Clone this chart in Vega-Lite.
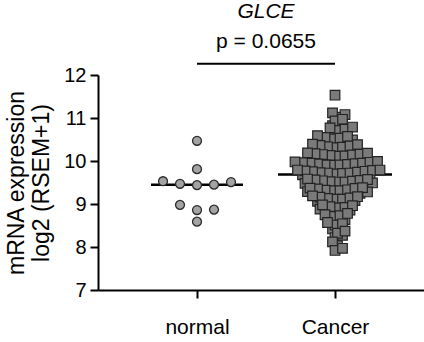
{
  "$schema": "https://vega.github.io/schema/vega-lite/v6.json",
  "autosize": "none",
  "padding": {"left": 98, "top": 75, "right": 0, "bottom": 52},
  "width": 336,
  "height": 215,
  "background": "white",
  "config": {
    "view": {"stroke": null},
    "font": "Liberation Sans"
  },
  "title": {
    "text": "GLCE",
    "fontStyle": "italic",
    "fontWeight": "normal",
    "fontSize": 21,
    "font": "Liberation Sans",
    "color": "black",
    "subtitle": "p = 0.0655",
    "subtitleFont": "Liberation Sans",
    "subtitleFontSize": 21,
    "subtitleColor": "black",
    "subtitlePadding": 9,
    "offset": 11,
    "anchor": "middle"
  },
  "datasets": {
    "bracket": [{"from": "normal", "to": "Cancer", "level": 12.26}],
    "expr": [
      {"group": "normal", "value": 10.47},
      {"group": "normal", "value": 9.81},
      {"group": "normal", "value": 9.45},
      {"group": "normal", "value": 9.53},
      {"group": "normal", "value": 9.47},
      {"group": "normal", "value": 9.51},
      {"group": "normal", "value": 9.44},
      {"group": "normal", "value": 8.98},
      {"group": "normal", "value": 8.86},
      {"group": "normal", "value": 8.87},
      {"group": "normal", "value": 8.59},
      {"group": "Cancer", "value": 11.53},
      {"group": "Cancer", "value": 11.02}, {"group": "Cancer", "value": 11.08}, {"group": "Cancer", "value": 11.12},
      {"group": "Cancer", "value": 10.82}, {"group": "Cancer", "value": 10.88}, {"group": "Cancer", "value": 10.93}, {"group": "Cancer", "value": 10.97},
      {"group": "Cancer", "value": 10.62}, {"group": "Cancer", "value": 10.66}, {"group": "Cancer", "value": 10.71}, {"group": "Cancer", "value": 10.74}, {"group": "Cancer", "value": 10.77}, {"group": "Cancer", "value": 10.79},
      {"group": "Cancer", "value": 10.41}, {"group": "Cancer", "value": 10.44}, {"group": "Cancer", "value": 10.46}, {"group": "Cancer", "value": 10.49}, {"group": "Cancer", "value": 10.51}, {"group": "Cancer", "value": 10.53}, {"group": "Cancer", "value": 10.55}, {"group": "Cancer", "value": 10.57}, {"group": "Cancer", "value": 10.59},
      {"group": "Cancer", "value": 10.21}, {"group": "Cancer", "value": 10.22}, {"group": "Cancer", "value": 10.24}, {"group": "Cancer", "value": 10.26}, {"group": "Cancer", "value": 10.27}, {"group": "Cancer", "value": 10.29}, {"group": "Cancer", "value": 10.31}, {"group": "Cancer", "value": 10.32}, {"group": "Cancer", "value": 10.33}, {"group": "Cancer", "value": 10.35}, {"group": "Cancer", "value": 10.36}, {"group": "Cancer", "value": 10.38}, {"group": "Cancer", "value": 10.39},
      {"group": "Cancer", "value": 10.01}, {"group": "Cancer", "value": 10.02}, {"group": "Cancer", "value": 10.03}, {"group": "Cancer", "value": 10.05}, {"group": "Cancer", "value": 10.06}, {"group": "Cancer", "value": 10.07}, {"group": "Cancer", "value": 10.08}, {"group": "Cancer", "value": 10.09}, {"group": "Cancer", "value": 10.11}, {"group": "Cancer", "value": 10.12}, {"group": "Cancer", "value": 10.13}, {"group": "Cancer", "value": 10.14}, {"group": "Cancer", "value": 10.15}, {"group": "Cancer", "value": 10.16}, {"group": "Cancer", "value": 10.17}, {"group": "Cancer", "value": 10.18}, {"group": "Cancer", "value": 10.19},
      {"group": "Cancer", "value": 9.81}, {"group": "Cancer", "value": 9.81}, {"group": "Cancer", "value": 9.82}, {"group": "Cancer", "value": 9.83}, {"group": "Cancer", "value": 9.84}, {"group": "Cancer", "value": 9.85}, {"group": "Cancer", "value": 9.86}, {"group": "Cancer", "value": 9.87}, {"group": "Cancer", "value": 9.88}, {"group": "Cancer", "value": 9.89}, {"group": "Cancer", "value": 9.9}, {"group": "Cancer", "value": 9.91}, {"group": "Cancer", "value": 9.91}, {"group": "Cancer", "value": 9.92}, {"group": "Cancer", "value": 9.93}, {"group": "Cancer", "value": 9.94}, {"group": "Cancer", "value": 9.95}, {"group": "Cancer", "value": 9.95}, {"group": "Cancer", "value": 9.96}, {"group": "Cancer", "value": 9.97}, {"group": "Cancer", "value": 9.98}, {"group": "Cancer", "value": 9.99},
      {"group": "Cancer", "value": 9.61}, {"group": "Cancer", "value": 9.61}, {"group": "Cancer", "value": 9.62}, {"group": "Cancer", "value": 9.63}, {"group": "Cancer", "value": 9.64}, {"group": "Cancer", "value": 9.65}, {"group": "Cancer", "value": 9.66}, {"group": "Cancer", "value": 9.67}, {"group": "Cancer", "value": 9.68}, {"group": "Cancer", "value": 9.69}, {"group": "Cancer", "value": 9.7}, {"group": "Cancer", "value": 9.71}, {"group": "Cancer", "value": 9.72}, {"group": "Cancer", "value": 9.72}, {"group": "Cancer", "value": 9.73}, {"group": "Cancer", "value": 9.74}, {"group": "Cancer", "value": 9.75}, {"group": "Cancer", "value": 9.76}, {"group": "Cancer", "value": 9.77}, {"group": "Cancer", "value": 9.78}, {"group": "Cancer", "value": 9.79}, {"group": "Cancer", "value": 9.79},
      {"group": "Cancer", "value": 9.41}, {"group": "Cancer", "value": 9.41}, {"group": "Cancer", "value": 9.42}, {"group": "Cancer", "value": 9.43}, {"group": "Cancer", "value": 9.44}, {"group": "Cancer", "value": 9.45}, {"group": "Cancer", "value": 9.46}, {"group": "Cancer", "value": 9.47}, {"group": "Cancer", "value": 9.48}, {"group": "Cancer", "value": 9.49}, {"group": "Cancer", "value": 9.51}, {"group": "Cancer", "value": 9.51}, {"group": "Cancer", "value": 9.52}, {"group": "Cancer", "value": 9.53}, {"group": "Cancer", "value": 9.54}, {"group": "Cancer", "value": 9.55}, {"group": "Cancer", "value": 9.56}, {"group": "Cancer", "value": 9.57}, {"group": "Cancer", "value": 9.58},
      {"group": "Cancer", "value": 9.21}, {"group": "Cancer", "value": 9.21}, {"group": "Cancer", "value": 9.22}, {"group": "Cancer", "value": 9.23}, {"group": "Cancer", "value": 9.24}, {"group": "Cancer", "value": 9.25}, {"group": "Cancer", "value": 9.26}, {"group": "Cancer", "value": 9.28}, {"group": "Cancer", "value": 9.29}, {"group": "Cancer", "value": 9.31}, {"group": "Cancer", "value": 9.31}, {"group": "Cancer", "value": 9.32}, {"group": "Cancer", "value": 9.33}, {"group": "Cancer", "value": 9.35}, {"group": "Cancer", "value": 9.36}, {"group": "Cancer", "value": 9.37}, {"group": "Cancer", "value": 9.38},
      {"group": "Cancer", "value": 9.01}, {"group": "Cancer", "value": 9.02}, {"group": "Cancer", "value": 9.03}, {"group": "Cancer", "value": 9.05}, {"group": "Cancer", "value": 9.06}, {"group": "Cancer", "value": 9.08}, {"group": "Cancer", "value": 9.11}, {"group": "Cancer", "value": 9.11}, {"group": "Cancer", "value": 9.13}, {"group": "Cancer", "value": 9.14}, {"group": "Cancer", "value": 9.16}, {"group": "Cancer", "value": 9.17}, {"group": "Cancer", "value": 9.19},
      {"group": "Cancer", "value": 8.81}, {"group": "Cancer", "value": 8.82}, {"group": "Cancer", "value": 8.84}, {"group": "Cancer", "value": 8.86}, {"group": "Cancer", "value": 8.88}, {"group": "Cancer", "value": 8.91}, {"group": "Cancer", "value": 8.92}, {"group": "Cancer", "value": 8.94}, {"group": "Cancer", "value": 8.96}, {"group": "Cancer", "value": 8.98},
      {"group": "Cancer", "value": 8.61}, {"group": "Cancer", "value": 8.64}, {"group": "Cancer", "value": 8.67}, {"group": "Cancer", "value": 8.71}, {"group": "Cancer", "value": 8.73}, {"group": "Cancer", "value": 8.75}, {"group": "Cancer", "value": 8.78},
      {"group": "Cancer", "value": 8.42}, {"group": "Cancer", "value": 8.46}, {"group": "Cancer", "value": 8.51}, {"group": "Cancer", "value": 8.54}, {"group": "Cancer", "value": 8.57},
      {"group": "Cancer", "value": 8.22}, {"group": "Cancer", "value": 8.27}, {"group": "Cancer", "value": 8.32}, {"group": "Cancer", "value": 8.37},
      {"group": "Cancer", "value": 8.03}, {"group": "Cancer", "value": 8.12},
      {"group": "Cancer", "value": 7.92}, {"group": "Cancer", "value": 7.97}
    ]
  },
  "data": {"name": "expr"},
  "encoding": {
    "x": {
      "field": "group",
      "type": "nominal",
      "sort": ["normal", "Cancer"],
      "scale": {"type": "point", "domain": ["normal", "Cancer"], "padding": 0.7174},
      "axis": {
        "title": null,
        "labelAngle": 0,
        "labelFont": "Liberation Sans",
        "labelFontSize": 21,
        "labelColor": "black",
        "labelPadding": 18,
        "tickSize": 8,
        "tickWidth": 2,
        "tickColor": "black",
        "domainWidth": 2,
        "domainColor": "black",
        "grid": false
      }
    },
    "y": {
      "field": "value",
      "type": "quantitative",
      "scale": {"domain": [7, 12], "nice": false, "zero": false},
      "axis": {
        "values": [7, 8, 9, 10, 11, 12],
        "title": ["mRNA expression", "log2 (RSEM+1)"],
        "titleFont": "Liberation Sans",
        "titleFontSize": 23,
        "titleFontWeight": "normal",
        "titleColor": "black",
        "titleLineHeight": 25,
        "titlePadding": 10,
        "labelFont": "Liberation Sans",
        "labelFontSize": 20,
        "labelColor": "black",
        "labelPadding": 4,
        "tickSize": 8,
        "tickWidth": 2,
        "tickColor": "black",
        "domainWidth": 2,
        "domainColor": "black",
        "grid": false
      }
    }
  },
  "layer": [
    {
      "data": {"name": "bracket"},
      "mark": {"type": "rule", "strokeWidth": 2, "color": "black", "clip": false},
      "encoding": {
        "x": {"field": "from", "type": "nominal"},
        "x2": {"field": "to"},
        "y": {"field": "level", "type": "quantitative"}
      }
    },
    {
      "transform": [{"filter": "datum.group === 'normal'"}],
      "mark": {"type": "tick", "color": "black", "thickness": 2.5, "size": 92},
      "encoding": {
        "y": {"aggregate": "median", "field": "value", "type": "quantitative"}
      }
    },
    {
      "transform": [{"filter": "datum.group === 'Cancer'"}],
      "mark": {"type": "tick", "color": "black", "thickness": 2.5, "size": 114},
      "encoding": {
        "y": {"aggregate": "median", "field": "value", "type": "quantitative"}
      }
    },
    {
      "transform": [
        {"filter": "datum.group === 'normal'"},
        {"bin": {"step": 0.2, "extent": [7, 12]}, "field": "value", "as": "b"},
        {"window": [{"op": "row_number", "as": "r"}], "groupby": ["b"], "sort": [{"field": "value", "order": "ascending"}]},
        {"calculate": "(datum.r % 2 == 0 ? 1 : -1) * floor(datum.r / 2)", "as": "slot"}
      ],
      "mark": {"type": "point", "shape": "circle", "filled": true, "size": 80, "fill": "#a3a3a3", "stroke": "#2a2a2a", "strokeWidth": 1.3, "opacity": 1},
      "encoding": {
        "xOffset": {"field": "slot", "type": "quantitative", "scale": {"domain": [-2, 2], "range": [-34, 34]}}
      }
    },
    {
      "transform": [
        {"filter": "datum.group === 'Cancer'"},
        {"bin": {"step": 0.1, "extent": [7, 12]}, "field": "value", "as": "b"},
        {"window": [{"op": "row_number", "as": "r"}], "groupby": ["b"], "sort": [{"field": "value", "order": "ascending"}]},
        {"calculate": "(datum.r % 2 == 0 ? 1 : -1) * floor(datum.r / 2) + (floor(datum.b * 10 + 0.5) % 3) / 3 - 0.33", "as": "slot"}
      ],
      "mark": {"type": "point", "shape": "square", "filled": true, "size": 92, "fill": "#7a7a7a", "stroke": "#222222", "strokeWidth": 1.2, "opacity": 1},
      "encoding": {
        "xOffset": {"field": "slot", "type": "quantitative", "scale": {"domain": [-6, 6], "range": [-45, 45]}}
      }
    }
  ],
  "resolve": {"scale": {"xOffset": "independent"}}
}
